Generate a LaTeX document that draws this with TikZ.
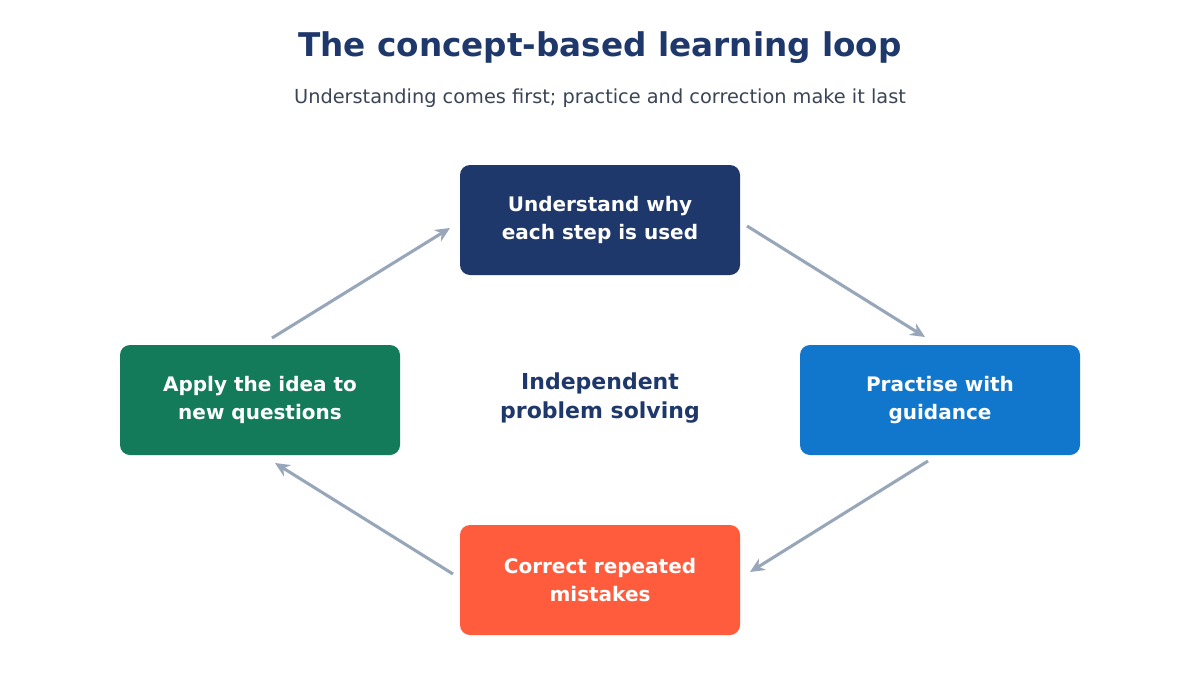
\documentclass[tikz,border=0pt]{standalone}
\usepackage{fontspec}
\setmainfont{DejaVu Sans}
\usetikzlibrary{arrows.meta}
\definecolor{navy}{HTML}{1F386B}
\definecolor{bluec}{HTML}{1177CC}
\definecolor{greenc}{HTML}{137A5A}
\definecolor{orangec}{HTML}{FF5C3E}
\definecolor{arrowc}{HTML}{98A6BA}
\definecolor{subc}{HTML}{3B4556}
\begin{document}
\begin{tikzpicture}[x=0.75pt,y=-0.75pt,
  box/.style={rounded corners=7.5pt,minimum width=210pt,minimum height=82.5pt,text=white,align=center,font=\fontsize{15}{21.5}\selectfont\bfseries,inner sep=0pt},
  arr/.style={draw=arrowc,line width=2.3pt,-{Stealth[length=11pt,width=10pt]}}]
\useasboundingbox[fill=white] (0,0) rectangle (1200,675);
\node[font=\fontsize{24.5}{28}\selectfont\bfseries,text=navy] (title) at (600,48) {The concept-based learning loop};
\node[font=\fontsize{14.5}{18}\selectfont,text=subc] (sub) at (600,98) {Understanding comes first; practice and correction make it last};
\node[box,fill=navy] (top) at (600,220) {Understand why\\each step is used};
\node[box,fill=bluec] (right) at (940,400) {Practise with\\guidance};
\node[box,fill=orangec] (bottom) at (600,580) {Correct repeated\\mistakes};
\node[box,fill=greenc] (left) at (260,400) {Apply the idea to\\new questions};
\node[font=\fontsize{16.5}{21.5}\selectfont\bfseries,text=navy,align=center] (center) at (600,398) {Independent\\problem solving};
\coordinate (a1) at (272,338); \coordinate (a2) at (450,228);
\coordinate (b1) at (747,226); \coordinate (b2) at (925,337);
\coordinate (c1) at (928,461); \coordinate (c2) at (750,572);
\coordinate (d1) at (453,574); \coordinate (d2) at (275,463);
\draw[arr] (a1) -- (a2);
\draw[arr] (b1) -- (b2);
\draw[arr] (c1) -- (c2);
\draw[arr] (d1) -- (d2);
\end{tikzpicture}
\end{document}
